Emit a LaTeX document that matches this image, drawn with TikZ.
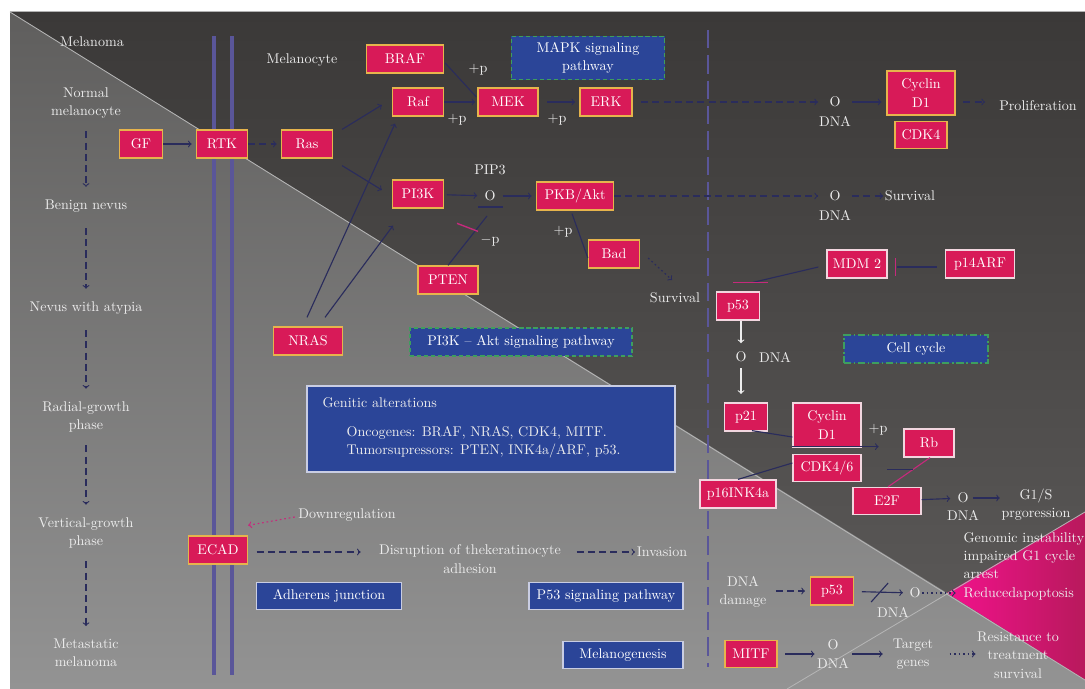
\documentclass[tikz,border=0pt]{standalone}
\usetikzlibrary{calc}
\definecolor{bgdarktop}{HTML}{3B3938}
\definecolor{bgdarkbot}{HTML}{5E5C5B}
\definecolor{bglighttop}{HTML}{5F5E5D}
\definecolor{bglightbot}{HTML}{939393}
\definecolor{pinkl}{HTML}{F2128C}
\definecolor{pinkr}{HTML}{B8195C}
\definecolor{genered}{HTML}{D81A58}
\definecolor{genegold}{HTML}{E6B44C}
\definecolor{genepale}{HTML}{F2D6DF}
\definecolor{boxblue}{HTML}{2B4598}
\definecolor{boxgreen}{HTML}{3E9E5E}
\definecolor{boxpale}{HTML}{C9CDE3}
\definecolor{arrowc}{HTML}{2A2C5C}
\definecolor{inhpink}{HTML}{C52A7C}
\definecolor{membc}{HTML}{5A5699}
\definecolor{txtc}{HTML}{EDEDED}
\definecolor{diagc}{HTML}{B5B5B5}
\begin{document}
\begin{tikzpicture}[x=0.025cm, y=-0.025cm, font=\fontsize{10}{13}\selectfont,
  gene/.style={draw=genegold, fill=genered, line width=0.9pt, text=white, align=center, minimum height=0.7cm, inner xsep=3pt},
  geneW/.style={gene, draw=genepale},
  pathbox/.style={fill=boxblue, draw=boxgreen, line width=0.9pt, dash pattern=on 3pt off 2pt, text=white, align=center},
  infobox/.style={fill=boxblue, draw=boxpale, line width=0.8pt, text=white, minimum height=0.675cm},
  lbl/.style={text=txtc, align=center, inner sep=1pt},
  line/.style={draw=arrowc, line width=0.8pt},
  act/.style={->, draw=arrowc, line width=0.8pt},
  actd/.style={act, dash pattern=on 5pt off 3pt},
  actdot/.style={act, dash pattern=on 1.2pt off 2pt},
  actw/.style={->, draw=txtc, line width=0.8pt},
  inh/.style={draw=inhpink, line width=1pt},
  membrane/.style={draw=membc},
  diag/.style={draw=diagc, line width=0.6pt}]

%背景
\fill[white] (0,0) rectangle (1085,689);
\useasboundingbox (0,0) rectangle (1085,689);
\shade[top color=bgdarktop, bottom color=bgdarkbot] (10,12) rectangle (1085,689);
\shade[top color=bglighttop, bottom color=bglightbot] (10,12) -- (947,593) -- (1085,680) -- (1085,689) -- (10,689) -- cycle;
\shade[left color=pinkl, right color=pinkr] (947,593) -- (1085,512) -- (1085,680) -- cycle;
\draw[diag] (10,12) -- (1085,680);
\draw[diag] (787,689) -- (1085,512);
\draw[gray!60, line width=0.6pt] (10,11.5) -- (1085,11.5);

%細胞膜
\coordinate (M1a) at (214,36);
\coordinate (M1b) at (214,675);
\coordinate (M2a) at (232,36);
\coordinate (M2b) at (232,675);
\draw[membrane, line width=2.8pt] (M1a) -- (M1b);
\draw[membrane, line width=2.2pt] (M2a) -- (M2b);
\coordinate (N1) at (708,30);
\coordinate (N2) at (708,667);
\draw[membrane, line width=2pt, dash pattern=on 13pt off 5pt] (N1) -- (N2);

%病期
\node[lbl] (mel) at (92,42) {Melanoma};
\node[lbl] (st1) at (86,103) {Normal\\melanocyte};
\node[lbl] (st2) at (86,206) {Benign nevus};
\node[lbl] (st3) at (86,308) {Nevus with atypia};
\node[lbl] (st4) at (86,417) {Radial-growth\\phase};
\node[lbl] (st5) at (86,533) {Vertical-growth\\phase};
\node[lbl] (st6) at (86,653) {Metastatic\\melanoma};
\draw[actd, shorten <=8pt, shorten >=8pt] (st1) -- (st2);
\draw[actd, shorten <=10pt, shorten >=8pt] (st2) -- (st3);
\draw[actd, shorten <=10pt, shorten >=8pt] (st3) -- (st4);
\draw[actd, shorten <=8pt, shorten >=8pt] (st4) -- (st5);
\draw[actd, shorten <=8pt, shorten >=8pt] (st5) -- (st6);

%MAPK経路
\node[lbl] (cell) at (302,60) {Melanocyte};
\node[gene, minimum width=1.075cm] (GF) at (141,144) {GF};
\node[gene, minimum width=1.275cm] (RTK) at (222,144) {RTK};
\node[gene, minimum width=1.275cm] (Ras) at (307,144) {Ras};
\node[gene, minimum width=1.925cm] (BRAF) at (405,59) {BRAF};
\node[gene, minimum width=1.275cm] (Raf) at (418,102) {Raf};
\node[gene, minimum width=1.5cm] (MEK) at (508,102) {MEK};
\node[gene, minimum width=1.3cm] (ERK) at (606,102) {ERK};
\node[pathbox, minimum width=3.825cm, minimum height=1.075cm] (mapk) at (588,58) {MAPK signaling\\pathway};
\node[lbl] (p1) at (478,70) {+p};
\node[lbl] (p2) at (457,120) {+p};
\node[lbl] (p3) at (557,120) {+p};
\node[lbl] (o1) at (835,102) {O};
\node[lbl] (dna1) at (835,121) {DNA};
\node[gene, minimum width=1.7cm, minimum height=1.1cm] (CycA) at (921,93) {Cyclin\\D1};
\node[gene, minimum width=1.3cm, minimum height=0.675cm] (CDK4) at (921,135) {CDK4};
\node[lbl] (prolif) at (1038,106) {Proliferation};
\draw[act, shorten >=3pt] (GF) -- (RTK);
\draw[actd, shorten >=3pt] (RTK) -- (Ras);
\draw[act] ($(Ras.north east)+(9,0)$) -- ($(Raf.west)+(-10,3)$);
\draw[line] ($(BRAF.east)+(1,4)$) -- ($(MEK.west)+(-1,-5)$);
\draw[act, shorten >=1.5pt] (Raf) -- (MEK);
\draw[act, shorten <=6pt, shorten >=3pt] (MEK) -- (ERK);
\draw[actd, shorten <=6pt, shorten >=7pt] (ERK) -- (o1);
\draw[act, shorten <=7pt, shorten >=3.5pt] (o1) -- (CycA.west |- o1);
\draw[actd, shorten <=5.5pt, shorten >=9pt] (CycA.east |- o1) -- (prolif.west |- o1);

%PI3K-Akt経路
\node[gene, minimum width=1.275cm] (PI3K) at (418,194) {PI3K};
\node[lbl] (pip3) at (490,170) {PIP3};
\node[lbl] (o2) at (490,196) {O};
\node[gene, minimum width=1.925cm] (PKB) at (575,196) {PKB/Akt};
\node[gene, minimum width=1.5cm] (PTEN) at (448,280) {PTEN};
\node[gene, minimum width=1.275cm] (Bad) at (614,254) {Bad};
\node[lbl] (mp) at (490,241) {$-$p};
\node[lbl] (p4) at (563,232) {+p};
\node[lbl] (surv1) at (675,298) {Survival};
\node[lbl] (o3) at (835,196) {O};
\node[lbl] (dna3) at (835,215) {DNA};
\node[lbl] (surv2) at (910,196) {Survival};
\node[gene, minimum width=1.725cm] (NRAS) at (308,341) {NRAS};
\node[pathbox, minimum width=5.55cm, minimum height=0.7cm] (pi3kakt) at (521,342) {PI3K -- Akt signaling pathway};
\draw[act] ($(Ras.south east)+(9,7)$) -- ($(PI3K.west)+(-10,-4)$);
\draw[act, shorten <=2pt, shorten >=4pt] (PI3K) -- (o2);
\draw[act, shorten <=4pt, shorten >=3pt] (o2) -- (PKB);
\draw[line] ($(o2)+(-12,11)$) -- ($(o2)+(13,11)$);
\draw[line] (PTEN.north) -- ($(o2)+(-3,20)$);
\draw[inh] ($(PTEN.north)+(9,-42)$) -- ($(PTEN.north)+(30,-34)$);
\draw[line] ($(PKB.south)+(-3,3)$) -- ($(Bad.west)+(0,4)$);
\draw[actdot] ($(Bad.east)+(8,4)$) -- ($(surv1)+(-3,-18)$);
\draw[actd, shorten >=7pt] (PKB) -- (o3);
\draw[actd, shorten <=7pt] (o3) -- (surv2);
\draw[act] ($(NRAS.north)+(-1,-9)$) -- ($(Raf.south)+(-23,7)$);
\draw[act] ($(NRAS.north)+(17,-9)$) -- ($(PI3K.south)+(-25,17)$);

%遺伝子変異
\node[infobox, minimum width=9.2cm, minimum height=2.15cm] (GA) at (491,429) {};
\node[lbl, anchor=west] (GAt) at (321,403) {Genitic alterations};
\node[lbl, anchor=west, align=left] (GAl) at (345,442) {Oncogenes: BRAF, NRAS, CDK4, MITF.\\Tumorsupressors: PTEN, INK4a/ARF, p53.};

%接着
\node[gene, minimum width=1.475cm] (ECAD) at (218,550) {ECAD};
\node[lbl] (down) at (347,515) {Downregulation};
\node[lbl] (disr) at (470,559) {Disruption of thekeratinocyte\\adhesion};
\node[lbl] (inv) at (662,552) {Invasion};
\node[infobox, minimum width=3.625cm] (adh) at (329,596) {Adherens junction};
\node[infobox, minimum width=3.85cm] (p53sig) at (606,596) {P53 signaling pathway};
\node[infobox, minimum width=3cm] (mgen) at (623,655) {Melanogenesis};
\draw[actd, shorten <=6pt, shorten >=12pt] ($(ECAD.east)+(0,2)$) -- ($(ECAD.east -| disr.west)+(0,2)$);
\draw[actd, shorten <=10pt] (inv.west -| disr.east) -- (inv.west);
\draw[->, draw=inhpink, line width=0.8pt, dash pattern=on 1.2pt off 2pt] ($(down.west)+(-2,2)$) -- ($(ECAD.north east)+(0,-10)$);

%細胞周期
\node[geneW, minimum width=1.5cm] (MDM) at (857,264) {MDM 2};
\node[geneW, minimum width=1.725cm] (p14) at (980,264) {p14ARF};
\node[geneW, minimum width=1.075cm] (p53t) at (738,306) {p53};
\node[lbl] (o4) at (741,357) {O};
\node[lbl] (dna4) at (775,357) {DNA};
\node[pathbox, dash pattern=on 5pt off 2pt on 1pt off 2pt, minimum width=3.6cm, minimum height=0.7cm] (ccyc) at (916,349) {Cell cycle};
\node[geneW, minimum width=1.075cm] (p21) at (746,417) {p21};
\node[geneW, minimum width=1.7cm, minimum height=1.1cm] (CycB) at (827,425) {Cyclin\\D1};
\node[lbl] (p5) at (878,430) {+p};
\node[geneW, minimum width=1.7cm, minimum height=0.675cm] (CDK46) at (827,468) {CDK4/6};
\node[geneW, minimum width=1.9cm] (p16) at (738,494) {p16INK4a};
\node[geneW, minimum width=1.25cm] (Rb) at (929,443) {Rb};
\node[geneW, minimum width=1.7cm, minimum height=0.675cm] (E2F) at (887,501) {E2F};
\node[lbl] (o5) at (963,498) {O};
\node[lbl] (dna5) at (963,515) {DNA};
\node[lbl] (G1S) at (1036,505) {G1/S\\prgoression};
\draw[line] ($(p14.west)+(-8,3)$) -- ($(MDM.east)+(9,3)$);
\draw[inh] ($(MDM.east)+(8,-6)$) -- ($(MDM.east)+(8,12)$);
\draw[line] ($(MDM.west)+(-8,3)$) -- ($(p53t.north)+(15,-9)$);
\draw[inh] ($(p53t.north)+(-5,-9)$) -- ($(p53t.north)+(30,-9)$);
\draw[actw, shorten >=5pt] ($(p53t.south)+(3,0)$) -- (o4.north);
\draw[actw, shorten <=3pt, shorten >=6pt] (o4.south) -- (o4.south |- p21.north);
\draw[line] ($(p21.south)+(6,-1)$) -- ($(CycB.west)+(0,12)$);
\draw[act] ($(CycB.south west)+(0,-1)$) -- ($(CycB.south east)+(17,-1)$);
\draw[line] (p16.north) -- ($(CDK46.west)+(0,-5)$);
\draw[inh, line width=0.8pt] ($(Rb.south)+(1,0)$) -- ($(E2F.north)+(1,0)$);
\draw[line] ($(E2F.north)+(0,-17)$) -- ($(E2F.north)+(26,-17)$);
\draw[act, shorten >=4pt] (E2F) -- (o5);
\draw[act, shorten <=2pt] (o5.east) -- (o5.east -| G1S.west);

%p53とMITF
\node[lbl] (gen) [anchor=west, align=left] at (962,566) {Genomic instability\\impaired G1 cycle\\arrest\\Reducedapoptosis};
\node[lbl] (dmg) at (743,592) {DNA\\damage};
\node[gene, minimum width=1.075cm] (p53b) at (832,591) {p53};
\node[lbl] (o6) at (915,593) {O};
\node[lbl] (dna6) at (893,612) {DNA};
\node[gene, minimum width=1.3cm, minimum height=0.675cm] (MITF) at (751,654) {MITF};
\node[lbl] (o7) at (833,645) {O};
\node[lbl] (dna7) at (833,663) {DNA};
\node[lbl] (tgt) at (913,654) {Target\\genes};
\node[lbl] (res) at (1018,655) {Resistance to\\treatment\\survival};
\draw[actd, shorten <=5.5pt, shorten >=3.5pt] (dmg.east |- p53b) -- (p53b);
\draw[act, shorten <=5.5pt, shorten >=3.5pt] (p53b) -- (o6);
\draw[line] ($(p53b.east)+(17,11)$) -- ($(p53b.east)+(34,-8)$);
\draw[actdot, shorten >=4.5pt] (o6) -- (o6 -| gen.west);
\draw[act, shorten <=5.5pt, shorten >=8pt] (MITF.east) -- (MITF.east -| o7.west);
\draw[act, shorten <=8.5pt, shorten >=6pt] (MITF.east -| o7.east) -- (MITF.east -| tgt.west);
\draw[actdot, shorten <=10.5pt] (MITF.east -| tgt.east) -- (MITF.east -| res.west);
\end{tikzpicture}
\end{document}
